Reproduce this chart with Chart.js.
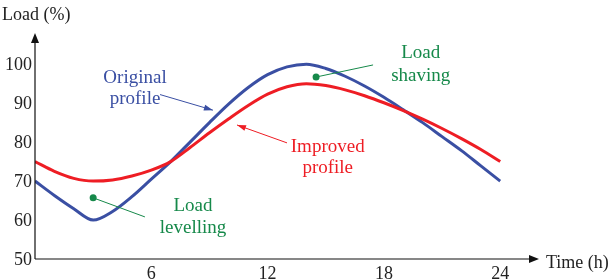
<!DOCTYPE html>
<html>
<head>
<meta charset="utf-8">
<script src="https://cdn.jsdelivr.net/npm/chart.js@4"></script>
<style>
  html, body { margin: 0; padding: 0; background: #fff; }
</style>
</head>
<body>
<canvas id="chart" width="612" height="279"></canvas>
<script>
// Hours of the day
const hours = [0, 1, 2, 3, 4, 5, 6, 7, 8, 9, 10, 11, 12, 13, 14, 15, 16, 17, 18, 19, 20, 21, 22, 23, 24];

// Load (%)
const originalLoad = [70, 66.3, 62.9, 60, 62.2, 66, 70.5, 75, 80, 85, 89.8, 94, 97.3, 99.3, 100, 98.9, 96.9, 94.4, 91.5, 88.3, 85, 81.4, 77.8, 73.9, 70];
const improvedLoad = [75, 72.5, 70.7, 70, 70.3, 71.3, 72.8, 75, 78.6, 82.4, 86, 89.4, 92.3, 94.2, 95, 94.5, 93.4, 91.9, 90.1, 88.1, 85.9, 83.5, 80.9, 78.1, 75];

const xTicks = [6, 12, 18, 24];
const yTicks = [50, 60, 70, 80, 90, 100];

const TICK_FONT = '18px "Liberation Serif"';
const NOTE_FONT = '19px "Liberation Serif"';
const BLUE = '#3a4fa3';
const RED = '#ee1d24';
const GREEN = '#16894a';

// Text annotations in data coordinates
const notes = [
  { lines: ['Original', 'profile'], x: 5.16, y: [96.7, 91.3], color: BLUE,
    arrow: { from: [6.45, 92.2], to: [9.18, 88.2] } },
  { lines: ['Improved', 'profile'], x: 15.1, y: [79, 73.6], color: RED,
    arrow: { from: [13.0, 79.8], to: [10.42, 84.4] } },
  { lines: ['Load', 'shaving'], x: 19.9, y: [103.1, 97.2], color: GREEN,
    dot: [14.5, 96.7], line: [17.44, 99.8] },
  { lines: ['Load', 'levelling'], x: 8.15, y: [63.9, 58.2], color: GREEN,
    dot: [3.0, 65.7], line: [5.67, 60.8] },
];

function arrowHead(ctx, x1, y1, x2, y2, len, wid) {
  const a = Math.atan2(y2 - y1, x2 - x1);
  ctx.beginPath();
  ctx.moveTo(x2, y2);
  ctx.lineTo(x2 - len * Math.cos(a) + wid * Math.sin(a), y2 - len * Math.sin(a) - wid * Math.cos(a));
  ctx.lineTo(x2 - len * Math.cos(a) - wid * Math.sin(a), y2 - len * Math.sin(a) + wid * Math.cos(a));
  ctx.closePath();
  ctx.fill();
}

const axesPlugin = {
  id: 'axesPlugin',
  afterDraw(chart) {
    const { ctx, chartArea, scales } = chart;
    const xs = scales.x, ys = scales.y;
    const x0 = xs.getPixelForValue(0);
    const y0 = ys.getPixelForValue(50);
    ctx.save();

    // axes with arrows
    ctx.strokeStyle = '#111';
    ctx.fillStyle = '#111';
    ctx.lineWidth = 1.2;
    ctx.beginPath();
    ctx.moveTo(x0, y0);
    ctx.lineTo(x0, chartArea.top + 4);
    ctx.moveTo(x0, y0);
    ctx.lineTo(chartArea.right - 4, y0);
    ctx.stroke();
    arrowHead(ctx, x0, y0, x0, chartArea.top, 10, 4);
    arrowHead(ctx, x0, y0, chartArea.right, y0, 10, 4);

    // tick labels (alphabetic baseline, offsets tuned by eye)
    ctx.font = TICK_FONT;
    ctx.fillStyle = '#222';
    ctx.textBaseline = 'alphabetic';
    ctx.textAlign = 'right';
    yTicks.forEach(v => ctx.fillText(String(v), 32, ys.getPixelForValue(v) + 6));
    ctx.textAlign = 'center';
    xTicks.forEach(v => ctx.fillText(String(v), xs.getPixelForValue(v), y0 + 20));

    ctx.textAlign = 'left';
    ctx.fillText('Load (%)', 2, 20);
    ctx.fillText('Time (h)', chartArea.right + 7, y0 + 9);

    // annotations
    notes.forEach(n => {
      ctx.font = NOTE_FONT;
      ctx.fillStyle = n.color;
      ctx.strokeStyle = n.color;
      ctx.textAlign = 'center';
      n.lines.forEach((t, i) => ctx.fillText(t, xs.getPixelForValue(n.x), ys.getPixelForValue(n.y[i]) + 6));
      if (n.arrow) {
        const fx = xs.getPixelForValue(n.arrow.from[0]), fy = ys.getPixelForValue(n.arrow.from[1]);
        const tx = xs.getPixelForValue(n.arrow.to[0]), ty = ys.getPixelForValue(n.arrow.to[1]);
        ctx.lineWidth = 1;
        ctx.beginPath();
        ctx.moveTo(fx, fy);
        ctx.lineTo(tx, ty);
        ctx.stroke();
        arrowHead(ctx, fx, fy, tx, ty, 9, 3);
      }
      if (n.dot) {
        const dx = xs.getPixelForValue(n.dot[0]), dy = ys.getPixelForValue(n.dot[1]);
        const lx = xs.getPixelForValue(n.line[0]), ly = ys.getPixelForValue(n.line[1]);
        ctx.lineWidth = 1;
        ctx.beginPath();
        ctx.moveTo(dx, dy);
        ctx.lineTo(lx, ly);
        ctx.stroke();
        ctx.beginPath();
        ctx.arc(dx, dy, 3.5, 0, Math.PI * 2);
        ctx.fill();
      }
    });
    ctx.restore();
  }
};

new Chart(document.getElementById('chart'), {
  type: 'line',
  data: {
    labels: hours,
    datasets: [
      {
        label: 'Improved profile',
        data: hours.map((h, i) => ({ x: h, y: improvedLoad[i] })),
        borderColor: RED,
        borderWidth: 3,
        pointRadius: 0,
        cubicInterpolationMode: 'monotone',
      },
      {
        label: 'Original profile',
        data: hours.map((h, i) => ({ x: h, y: originalLoad[i] })),
        borderColor: BLUE,
        borderWidth: 3,
        pointRadius: 0,
        cubicInterpolationMode: 'monotone',
      },
    ],
  },
  options: {
    responsive: false,
    animation: false,
    layout: { padding: { left: 35, right: 73, top: 33, bottom: 20 } },
    plugins: { legend: { display: false }, tooltip: { enabled: false } },
    scales: {
      x: { type: 'linear', min: 0, max: 26, display: false },
      y: { type: 'linear', min: 50, max: 108, display: false },
    },
  },
  plugins: [axesPlugin],
});
</script>
</body>
</html>
